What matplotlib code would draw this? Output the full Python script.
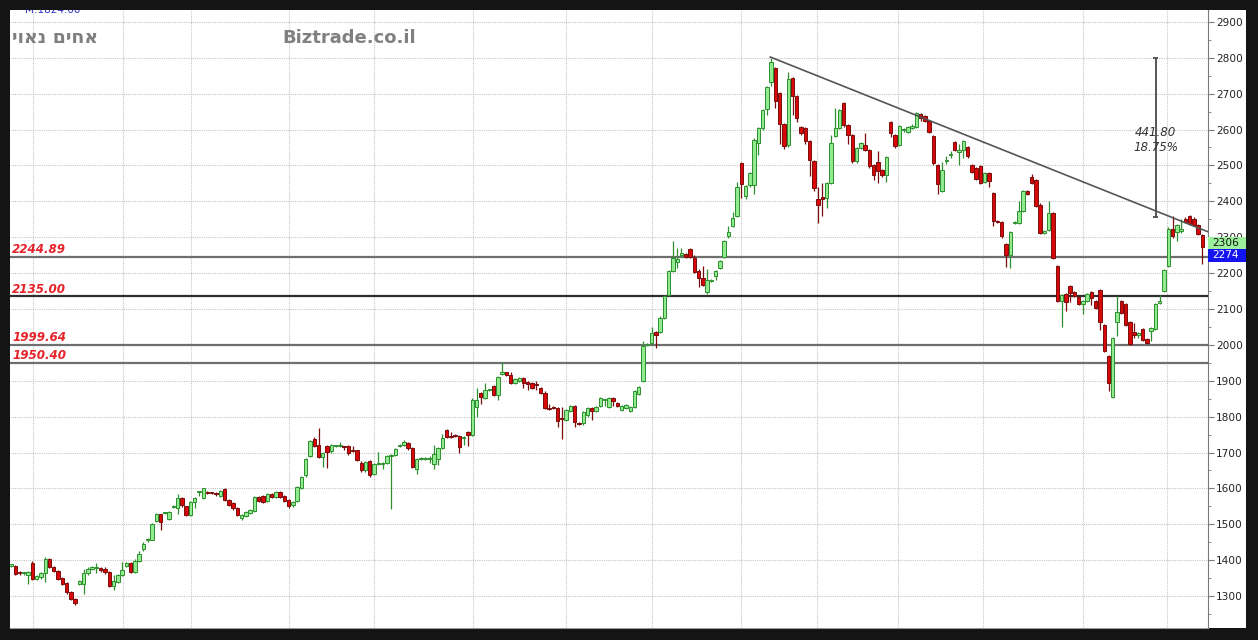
import matplotlib
matplotlib.use('Agg')
import matplotlib.pyplot as plt
from matplotlib.patches import Rectangle
from matplotlib.transforms import blended_transform_factory, offset_copy

# ---------------- data (weekly candles) ----------------
opens = [
    1385, 1383, 1368, 1363, 1360, 1392, 1348, 1352, 1365, 1402,
    1380, 1371, 1350, 1336, 1312, 1293, 1334, 1334, 1364, 1375,
    1379, 1378, 1376, 1367, 1327, 1340, 1359, 1383, 1392, 1367,
    1397, 1432, 1457, 1457, 1509, 1528, 1531, 1514, 1549, 1546,
    1574, 1550, 1526, 1563, 1589, 1574, 1590, 1589, 1586, 1579,
    1598, 1567, 1558, 1546,
    1517, 1522, 1531, 1537, 1577, 1579, 1565, 1584, 1575, 1591,
    1579, 1568, 1553, 1565, 1600, 1636, 1690, 1739, 1720, 1687,
    1718, 1703, 1717, 1719, 1716, 1717, 1707, 1706, 1671, 1650,
    1675, 1641, 1668, 1669, 1671, 1690, 1694, 1719, 1720, 1727,
    1712, 1654, 1682, 1683, 1682, 1668, 1683, 1713, 1762, 1746,
    1748, 1746, 1740, 1757, 1750, 1828, 1865, 1853,
    1873, 1886, 1860, 1918, 1923, 1916, 1895, 1899, 1908, 1897,
    1893, 1889, 1880, 1867, 1824, 1826, 1825, 1796, 1790, 1815,
    1829, 1782, 1781, 1804, 1825, 1815, 1830, 1845, 1827, 1853,
    1837, 1818, 1823, 1816, 1827, 1862, 1899, 2000, 2004, 2035,
    2035, 2076, 2139, 2206, 2230, 2249, 2253, 2267, 2243, 2206,
    2187, 2147, 2177, 2193, 2215, 2246, 2302, 2330,
    2360,
    2507, 2414, 2445, 2445, 2563, 2605, 2656, 2733, 2770, 2702,
    2614, 2558, 2744, 2693, 2606, 2605, 2567, 2513, 2405, 2411,
    2409, 2451, 2581, 2605, 2674, 2612, 2584, 2512, 2549, 2558,
    2544, 2502, 2510, 2486, 2472, 2621, 2584, 2558, 2598, 2593,
    2605, 2607, 2644, 2637, 2623, 2581, 2502, 2430, 2511, 2529,
    2566, 2537, 2544, 2551, 2500, 2493, 2498, 2454, 2479,
    2423, 2346, 2342, 2281, 2251, 2339, 2340, 2374, 2428, 2467,
    2458, 2391, 2312, 2321, 2367, 2219, 2121, 2141, 2165, 2147,
    2132, 2113, 2123, 2147, 2121, 2153, 2056, 1970, 1856, 2065,
    2123, 2113, 2063, 2037, 2028, 2044, 2017, 2039, 2044, 2116,
    2149, 2221, 2324, 2314, 2316, 2352, 2358, 2352, 2333, 2306,
]
highs = [
    1390, 1386, 1370, 1368, 1370, 1398, 1358, 1368, 1410, 1405,
    1384, 1374, 1352, 1340, 1315, 1295, 1346, 1376, 1380, 1384,
    1392, 1381, 1380, 1370, 1360, 1362, 1395, 1396, 1394, 1402,
    1425, 1450, 1462, 1504, 1532, 1530, 1535, 1538, 1555, 1585,
    1576, 1552, 1566, 1575, 1591, 1602, 1592, 1591, 1590, 1596,
    1600, 1570, 1561, 1549,
    1529, 1536, 1542, 1580, 1580, 1581, 1586, 1588, 1594, 1594,
    1582, 1570, 1565, 1606, 1634, 1684, 1734, 1742, 1767, 1702,
    1721, 1723, 1722, 1730, 1718, 1722, 1718, 1708, 1675, 1676,
    1678, 1672, 1702, 1674, 1693, 1696, 1712, 1724, 1735, 1730,
    1714, 1686, 1687, 1687, 1690, 1720, 1716, 1752, 1765, 1756,
    1752, 1749, 1746, 1760, 1851, 1880, 1868, 1895,
    1878, 1889, 1914, 1951, 1925, 1925, 1908, 1911, 1910, 1900,
    1896, 1900, 1883, 1870, 1835, 1829, 1828, 1828, 1821, 1832,
    1832, 1785, 1815, 1828, 1828, 1830, 1854, 1850, 1856, 1856,
    1840, 1833, 1835, 1830, 1874, 1886, 2010, 2006, 2050, 2038,
    2079, 2140, 2209, 2290, 2270, 2270, 2256, 2270, 2250, 2210,
    2220, 2210, 2183, 2209, 2237, 2291, 2330, 2370,
    2455,
    2510, 2445, 2482, 2575, 2608, 2656, 2721, 2798, 2773, 2705,
    2617, 2760, 2747, 2696, 2609, 2608, 2570, 2516, 2440, 2450,
    2454, 2585, 2660, 2656, 2677, 2615, 2587, 2552, 2566, 2590,
    2547, 2505, 2540, 2489, 2526, 2624, 2587, 2612, 2605, 2610,
    2614, 2650, 2647, 2640, 2626, 2584, 2505, 2510, 2525, 2540,
    2569, 2560, 2570, 2554, 2503, 2496, 2501, 2482, 2482,
    2426, 2349, 2345, 2284, 2317, 2344, 2400, 2431, 2431, 2475,
    2461, 2394, 2321, 2400, 2370, 2222, 2142, 2144, 2168, 2150,
    2135, 2126, 2144, 2150, 2124, 2156, 2059, 1973, 2022, 2135,
    2126, 2116, 2066, 2060, 2036, 2047, 2020, 2051, 2117, 2140,
    2212, 2327, 2360, 2338, 2350, 2355, 2361, 2355, 2336, 2309,
]
lows = [
    1380, 1358, 1360, 1360, 1334, 1345, 1345, 1348, 1340, 1378,
    1368, 1345, 1330, 1305, 1288, 1276, 1331, 1306, 1360, 1372,
    1364, 1368, 1362, 1325, 1318, 1336, 1356, 1380, 1364, 1364,
    1394, 1425, 1452, 1455, 1505, 1485, 1528, 1511, 1545, 1530,
    1548, 1524, 1523, 1545, 1578, 1571, 1585, 1583, 1580, 1576,
    1564, 1552, 1540, 1524,
    1512, 1519, 1528, 1535, 1562, 1558, 1562, 1572, 1572, 1572,
    1562, 1545, 1548, 1562, 1597, 1633, 1687, 1714, 1684, 1660,
    1658, 1700, 1714, 1716, 1706, 1694, 1702, 1675, 1646, 1646,
    1633, 1637, 1665, 1655, 1667, 1542, 1690, 1716, 1717, 1708,
    1656, 1640, 1679, 1680, 1670, 1654, 1664, 1710, 1740, 1740,
    1744, 1700, 1720, 1718, 1747, 1800, 1835, 1849,
    1870, 1857, 1845, 1915, 1913, 1892, 1892, 1896, 1880, 1875,
    1876, 1874, 1864, 1822, 1818, 1820, 1770, 1739, 1787, 1812,
    1770, 1777, 1778, 1800, 1790, 1812, 1826, 1830, 1824, 1830,
    1826, 1815, 1820, 1813, 1824, 1859, 1896, 1997, 2000, 1990,
    2032, 2073, 2136, 2203, 2215, 2246, 2243, 2243, 2200, 2160,
    2164, 2143, 2174, 2180, 2212, 2243, 2299, 2327,
    2355,
    2410, 2405, 2440, 2420, 2530, 2600, 2640, 2720, 2660, 2560,
    2545, 2550, 2640, 2620, 2585, 2560, 2470, 2430, 2340, 2360,
    2380, 2448, 2578, 2602, 2608, 2560, 2508, 2508, 2545, 2540,
    2494, 2460, 2450, 2468, 2455, 2580, 2548, 2554, 2594, 2589,
    2601, 2603, 2625, 2620, 2589, 2500, 2420, 2426, 2505, 2520,
    2540, 2500, 2520, 2522, 2478, 2459, 2447, 2450, 2440,
    2330, 2339, 2298, 2218, 2215, 2336, 2337, 2371, 2417, 2448,
    2383, 2309, 2309, 2318, 2239, 2118, 2050, 2095, 2120, 2132,
    2110, 2085, 2120, 2110, 2099, 2040, 1980, 1870, 1853, 2025,
    2085, 2053, 1999, 2020, 2020, 2011, 2001, 2010, 2041, 2113,
    2146, 2218, 2299, 2290, 2313, 2339, 2334, 2332, 2306, 2225,
]
closes = [
    1388, 1362, 1365, 1365, 1366, 1348, 1355, 1365, 1404, 1380,
    1371, 1348, 1334, 1312, 1292, 1281, 1343, 1364, 1376, 1380,
    1381, 1372, 1366, 1329, 1343, 1359, 1374, 1393, 1368, 1399,
    1418, 1446, 1459, 1502, 1530, 1507, 1533, 1535, 1551, 1572,
    1553, 1527, 1563, 1572, 1590, 1600, 1588, 1587, 1584, 1593,
    1567, 1555, 1546, 1527,
    1526, 1533, 1539, 1575, 1565, 1561, 1584, 1575, 1591, 1575,
    1565, 1551, 1562, 1603, 1631, 1681, 1731, 1718, 1687, 1699,
    1701, 1720, 1719, 1721, 1714, 1699, 1705, 1678, 1650, 1673,
    1638, 1669, 1670, 1671, 1690, 1693, 1709, 1721, 1729, 1712,
    1659, 1683, 1684, 1685, 1684, 1697, 1713, 1741, 1744, 1744,
    1746, 1715, 1742, 1750, 1847, 1847, 1856, 1875,
    1875, 1860, 1911, 1923, 1916, 1895, 1905, 1908, 1895, 1890,
    1880, 1887, 1867, 1825, 1822, 1824, 1787, 1794, 1818, 1829,
    1784, 1780, 1812, 1825, 1815, 1827, 1851, 1847, 1853, 1843,
    1830, 1830, 1832, 1827, 1871, 1883, 1998, 2002, 2032, 2027,
    2076, 2137, 2206, 2243, 2239, 2255, 2246, 2246, 2204, 2187,
    2167, 2181, 2179, 2206, 2234, 2288, 2314, 2353,
    2440,
    2448, 2442, 2479, 2572, 2605, 2653, 2718, 2789, 2679, 2614,
    2553, 2742, 2693, 2631, 2591, 2567, 2516, 2437, 2391, 2405,
    2451, 2563, 2603, 2653, 2612, 2584, 2512, 2549, 2563, 2544,
    2498, 2472, 2484, 2472, 2523, 2591, 2553, 2609, 2600, 2607,
    2609, 2647, 2631, 2625, 2593, 2507, 2448, 2486, 2513, 2531,
    2544, 2544, 2567, 2526, 2482, 2463, 2451, 2479, 2456,
    2346, 2342, 2302, 2251, 2314, 2341, 2374, 2428, 2420, 2451,
    2386, 2312, 2318, 2367, 2242, 2121, 2139, 2119, 2144, 2135,
    2113, 2123, 2141, 2130, 2102, 2065, 1983, 1893, 2019, 2091,
    2088, 2056, 2002, 2028, 2033, 2014, 2005, 2048, 2114, 2123,
    2209, 2324, 2302, 2335, 2324, 2342, 2337, 2335, 2309, 2274,
]

level_values = [2244.89, 2135.00, 1999.64, 1950.40]
level_texts = ['2244.89', '2135.00', '1999.64', '1950.40']
level_colors = ['#6e6e6e', '#2e2e2e', '#6e6e6e', '#6e6e6e']
ytick_values = list(range(1300, 3000, 100))
grid_positions = [5.2, 26.2, 42.2, 65.1, 85.0, 108.2, 130.0, 150.1,
                  171.0, 188.8, 207.7, 227.6, 251.1, 270.7]
trend_x = [177.8, 280.3]
trend_y = [2802.0, 2315.0]
measure_x = 268.1
measure_low = 2356.27
measure_high = 2798.07
measure_texts = ['441.80', '18.75%']
price_tags = [2306, 2274]
top_label = 'M:1824.00'
hebrew_title = 'אחים נאוי'
site_title = 'Biztrade.co.il'

# ---------------- figure ----------------
W, H = 1258, 640
fig = plt.figure(figsize=(W / 100, H / 100), dpi=100, facecolor='#141414')
fig.patches.append(Rectangle((10 / W, 12 / H), 1236 / W, 618 / H,
                             transform=fig.transFigure, facecolor='white',
                             edgecolor='none', zorder=-10))
ax = fig.add_axes([10 / W, 12 / H, 1198 / W, 618 / H])
ax.set_zorder(1)
ax.set_facecolor('white')
ax.set_xlim(-0.25, 280.3)
ax.set_ylim(1211, 2933)

# grid
for gx in grid_positions:
    ax.axvline(gx, color='#c6c6c6', lw=0.8, ls=(0, (1, 1)), zorder=1)
for gy in ytick_values:
    ax.axhline(gy, color='#c6c6c6', lw=0.8, ls=(0, (1, 1)), zorder=1)

# support / resistance levels
trans_lbl = offset_copy(ax.transData, fig=fig, x=0, y=3.5, units='dots')
for v, t, c in zip(level_values, level_texts, level_colors):
    ax.axhline(v, color=c, lw=1.6, zorder=2)
    ax.text(0.3, v, t, transform=trans_lbl, color='#e5232a', fontsize=8.6,
            fontweight='bold', fontstyle='italic', ha='left', va='baseline',
            family='DejaVu Sans', zorder=6)

# candles
up_fill, up_edge = '#90ea90', '#2d8f2d'
dn_fill, dn_edge = '#d80808', '#7a0c0c'
for i, (o, h, l, c) in enumerate(zip(opens, highs, lows, closes)):
    up = c >= o
    edge = up_edge if up else dn_edge
    fill = up_fill if up else dn_fill
    ax.vlines(i, l, h, color=edge, lw=0.9, zorder=3)
    bottom = min(o, c)
    height = max(abs(c - o), 3)
    ax.bar(i, height, bottom=bottom, width=0.8, color=fill,
           edgecolor=edge, linewidth=0.7, zorder=4)

# trend line
ax.plot(trend_x, trend_y, color='#555555', lw=1.2, zorder=5)

# measure bar
ax.vlines(measure_x, measure_low, measure_high, color='#555555', lw=1.4, zorder=5)
ax.hlines([measure_low, measure_high], measure_x - 0.6, measure_x + 0.6,
          color='#555555', lw=1.4, zorder=5)
ax.text(measure_x, 2592, measure_texts[0], ha='center', va='center',
        fontsize=8.6, fontstyle='italic', color='#333333', zorder=6)
ax.text(measure_x, 2550, measure_texts[1], ha='center', va='center',
        fontsize=8.6, fontstyle='italic', color='#333333', zorder=6)

# axes styling
for s in ['left', 'top']:
    ax.spines[s].set_visible(False)
ax.spines['right'].set_color('#7a7a7a')
ax.spines['bottom'].set_color('#9a9a9a')
ax.yaxis.tick_right()
ax.set_yticks(ytick_values)
ax.set_yticklabels([str(v) for v in ytick_values])
ax.set_yticks([v + 50 for v in ytick_values[:-1]] + [1250], minor=True)
ax.tick_params(axis='y', which='major', direction='out', length=4,
               color='#7a7a7a', labelsize=7.6, labelcolor='#222222', pad=2)
ax.tick_params(axis='y', which='minor', direction='out', length=2.5,
               color='#7a7a7a')
ax.set_xticks([])

# price tags on right axis (they cover the 2300 tick label, as in the source)
bt = blended_transform_factory(ax.transAxes, ax.transData)
tag_style = [('#9cf09c', '#111111', 32), ('#1414f0', 'white', 37)]
for val, (bg, fg, hgt) in zip(price_tags, tag_style):
    top = val - 6
    ax.add_patch(Rectangle((1.0, top - hgt), 0.0317, hgt, transform=bt,
                           facecolor=bg, edgecolor='none', clip_on=False,
                           zorder=7))
    ax.text(1.0035, top - hgt / 2, str(val), transform=bt, ha='left',
            va='center', fontsize=7.6, color=fg, clip_on=False, zorder=8)

# titles (top label partly hidden behind the frame, as in the source)
ax.text(15 / 1198, 1 - 3.0 / 618, top_label, transform=ax.transAxes,
        fontsize=7.5, color='#3030c8', ha='left', va='baseline', clip_on=True,
        zorder=6)
fig.text(12 / W, 1 - 43 / H, hebrew_title[::-1], fontsize=13.5,
         fontweight='bold', color='#7f7f7f', ha='left', va='baseline',
         family='DejaVu Sans')
fig.text(282 / W, 1 - 43 / H, site_title, fontsize=13, fontweight='bold',
         color='#808080', ha='left', va='baseline', family='DejaVu Sans')

fig.savefig('out.png', dpi=100, facecolor=fig.get_facecolor())
